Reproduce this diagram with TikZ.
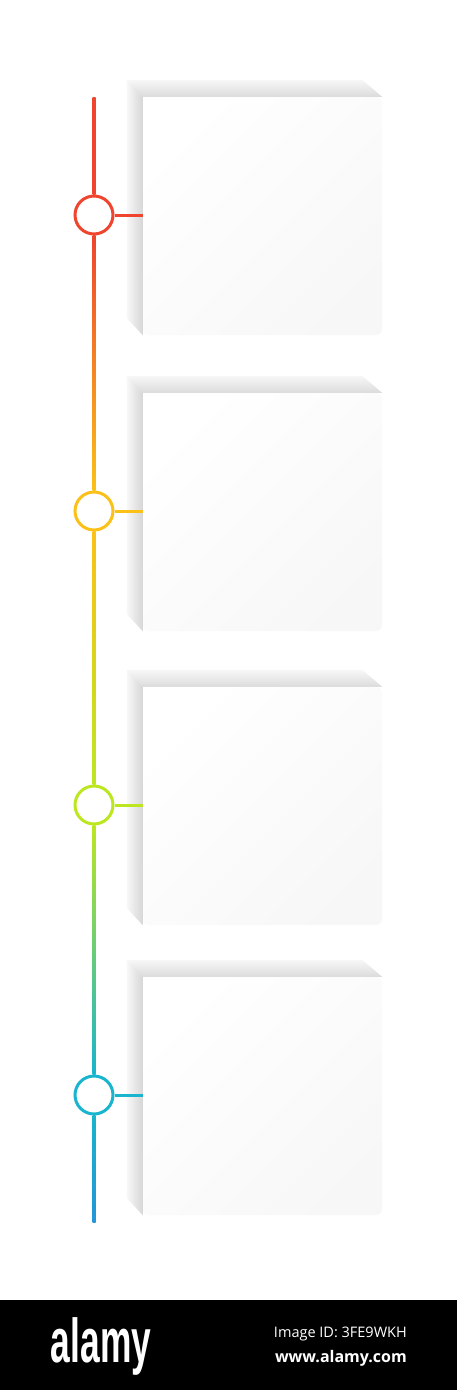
\documentclass[tikz,border=0pt]{standalone}
\usepackage{fontspec}
\usetikzlibrary{positioning, calc, backgrounds}
\newfontfamily\logofont{Liberation Sans}
\newfontfamily\idfont{Open Sans}
\definecolor{tlred}{RGB}{239,68,46}
\definecolor{tlorange}{RGB}{248,140,40}
\definecolor{tlgold}{RGB}{251,193,24}
\definecolor{tlyellow}{RGB}{250,236,12}
\definecolor{tllime}{RGB}{188,230,32}
\definecolor{tlteal}{RGB}{110,208,125}
\definecolor{tlcyan}{RGB}{25,180,205}
\definecolor{tlblue}{RGB}{35,150,215}
\tikzset{ % timeline styles
  stopdot/.style={circle,draw=#1,line width=3pt,fill=white,inner sep=0,minimum size=38pt},
  stub/.style={draw=#1,line width=3pt},
  card/.style={rounded corners=6pt,inner sep=0,minimum width=239pt,minimum height=238pt,
    top color=white,bottom color=black!3,shading angle=45},
  banner text/.style={text=white,inner sep=0}
}

\begin{document}
\begin{tikzpicture}[x=1pt,y=-1pt]
\useasboundingbox (0,0) rectangle (457,1390);

\foreach\i/\y/\c in {1/215/tlred,2/511/tlgold,3/805/tllime,4/1095/tlcyan}
{
  \node[card]        (b\i) at (262.5,\y+1) {};
  \node[stopdot=\c]  (c\i) at (94,\y)      {};
}
\coordinate (top) at (94,97);
\coordinate (bot) at (94,1222);

% shadows behind the cards
\begin{scope}[on background layer]
\foreach\i in {1,2,3,4}
{
  \shade[top color=black!3,bottom color=black!14]
    ($(b\i.north west)+(-16,-17)$) -- ($(b\i.north east)+(-20,-17)$)
    -- (b\i.north east) -- (b\i.north west) -- cycle;
  \shade[left color=black!3,right color=black!16]
    ($(b\i.north west)+(-16,-17)$) -- (b\i.north west)
    -- (b\i.south west) -- ($(b\i.south west)+(-16,-17)$) -- cycle;
}
\end{scope}

% timeline
\foreach\a/\b/\t/\m/\u in {top/c1.north/tlred/tlred/tlred,
    c1.south/c2.north/tlred/tlorange/tlgold,
    c2.south/c3.north/tlgold/tlyellow/tllime,
    c3.south/c4.north/tllime/tlteal/tlcyan,
    c4.south/bot/tlcyan/tlcyan/tlblue}
  \shade[top color=\t,middle color=\m,bottom color=\u]
    ($(\a)+(-1.5,0)$) rectangle ($(\b)+(1.5,0)$);

% connections
\foreach\i/\c in {1/tlred,2/tlgold,3/tllime,4/tlcyan}
  \draw[stub=\c] (c\i.east) -- (c\i -| b\i.west);

% banner
\fill[black] (0,1300) rectangle (457,1390);
\node[banner text,anchor=base,font=\logofont\bfseries\fontsize{62}{62}\selectfont]
  (logo) at (101,1362) {\scalebox{0.57}[1]{alamy}};
\node[banner text,anchor=base east,font=\idfont\fontsize{14.5}{15}\selectfont]
  (imgid) at (407,1337) {Image ID: 3FE9WKH};
\node[banner text,anchor=base east,font=\idfont\bfseries\fontsize{16}{17}\selectfont]
  (site) at (407,1362) {www.alamy.com};
\end{tikzpicture}
\end{document}
